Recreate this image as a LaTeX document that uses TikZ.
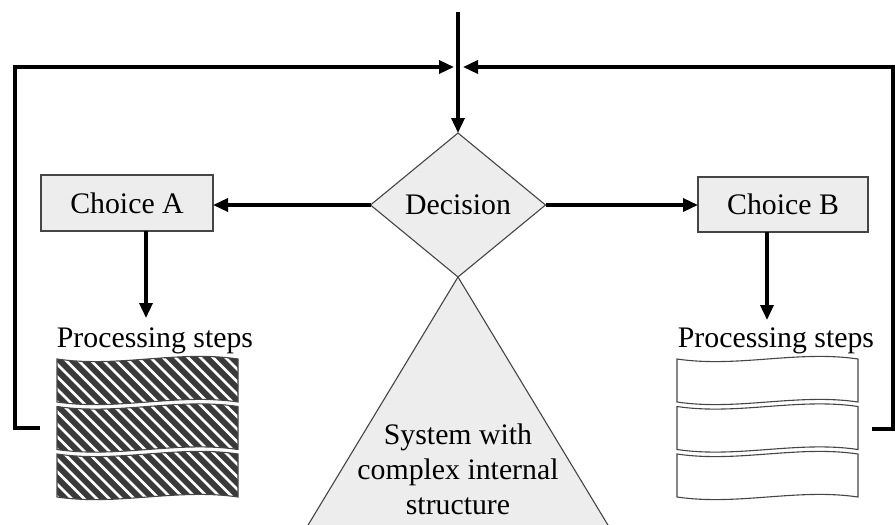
\documentclass[tikz,border=0pt]{standalone}
\usepackage{fontspec}
\setmainfont{Liberation Serif}
\usetikzlibrary{shapes.geometric,arrows.meta}
\definecolor{boxfill}{HTML}{EDEDED}
\definecolor{edge}{HTML}{454545}
\definecolor{hatch}{HTML}{3A3A3A}
\begin{document}
\begin{tikzpicture}[x=1pt,y=-1pt,
  conn/.style={line width=3.4pt,-{Triangle[length=15pt,width=13pt]}},
  lbl/.style={font=\fontsize{29.8}{35}\selectfont,inner sep=0pt,outer sep=0pt},
  choicebox/.style={lbl,draw=edge,line width=1.1pt,fill=boxfill,
    minimum width=172pt,minimum height=56pt},
  % wavy-edged sheet: x, top y, width, height
  wave/.style n args={4}{insert path={(#1,#2)
    .. controls ({#1+#3/3},{#2+9}) and ({#1+2*#3/3},{#2-9}) .. ({#1+#3},#2)
    -- ({#1+#3},{#2+#4})
    .. controls ({#1+2*#3/3},{#2+#4-9}) and ({#1+#3/3},{#2+#4+9}) .. (#1,{#2+#4})
    -- cycle}},
  sheet/.style={draw=edge,line width=1.1pt}
]
\clip (0,0) rectangle (895,525);

% central decision and the system below it
\node[diamond,lbl,draw=edge,line width=1.1pt,fill=boxfill,
      minimum width=175pt,minimum height=144pt] (dec) at (458,205) {Decision};
\filldraw[fill=boxfill,draw=edge,line width=1.1pt]
  (dec.south) -- (296,545) -- (620,545) -- cycle;
\node[lbl,align=center] (sys) at (458,469) {System with\\complex internal\\structure};

% the two choices
\node[choicebox] (choiceA) at (127,203) {Choice A};
\node[choicebox,minimum width=170pt,minimum height=55pt] (choiceB) at (783,204.5) {Choice B};

\node[lbl,anchor=base] (procA) at (155,347) {Processing steps};
\node[lbl,anchor=base] (procB) at (776,347) {Processing steps};

% hatched stack of steps under choice A
\foreach \y in {359,406.5,454}{
  \begin{scope}
    \clip[wave={57}{\y}{181}{43}];
    \fill[hatch] (40,\y-20) rectangle (260,\y+70);
    \foreach \k in {-18,...,17}
      \draw[white,line width=2.8pt] ({57+\k*12.5},{\y-20}) -- ++(90,90);
  \end{scope}
  \path[sheet][wave={57}{\y}{181}{43}];
}

% plain stack of steps under choice B
\foreach \y in {359,406.5,454}
  \path[sheet,fill=white][wave={677}{\y}{181}{43}];

% entry and feedback points
\coordinate (top) at (458,12);
\coordinate (merge) at (458,67);
\coordinate (loopA) at (40,428);
\coordinate (loopB) at (872,429);

% connectors
\draw[conn] (top) -- (dec.north);
\draw[conn] (dec.west) -- (dec.west -| choiceA.east);
\draw[conn] (dec.east) -- (dec.east -| choiceB.west);
\draw[conn] ([xshift=19pt]choiceA.south) -- ([xshift=19pt]choiceA.south |- 0,318);
\draw[conn] ([xshift=-16pt]choiceB.south) -- ([xshift=-16pt]choiceB.south |- 0,320);
\draw[conn,line join=miter] (loopA) -- (15,428) -- (15,67) -- ([xshift=-4pt]merge);
\draw[conn,line join=miter] (loopB) -- (893,429) -- (893,67) -- ([xshift=5pt]merge);
\end{tikzpicture}
\end{document}
